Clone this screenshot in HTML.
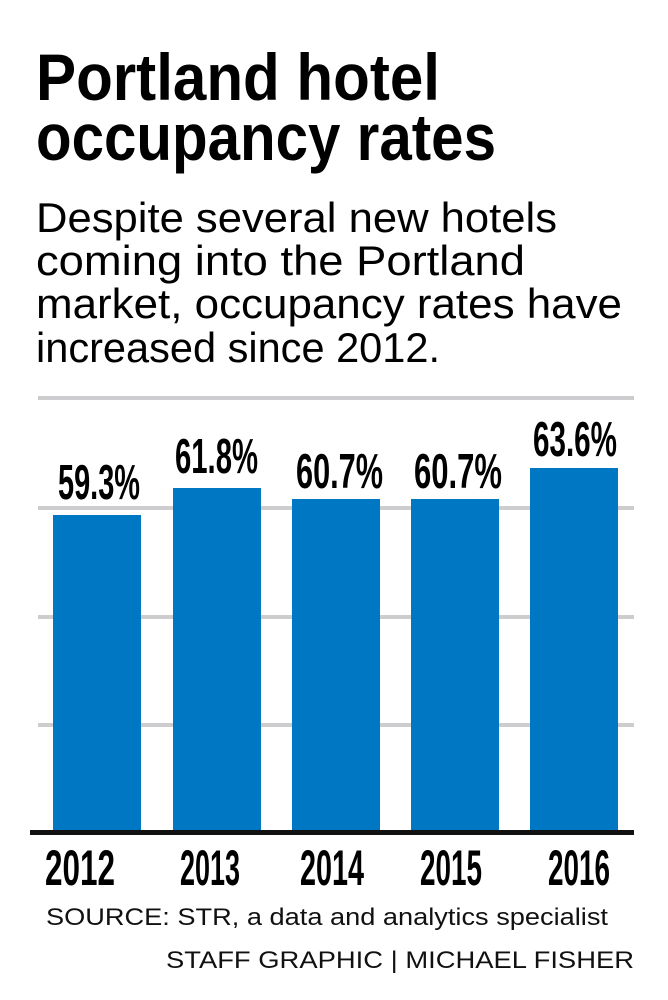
<!DOCTYPE html>
<html><head><meta charset="utf-8"><style>
html,body{margin:0;padding:0;background:#fff;}
svg{display:block;}
</style></head><body>
<svg width="668" height="1000" viewBox="0 0 668 1000" xmlns="http://www.w3.org/2000/svg">
<g font-family="Liberation Sans, sans-serif" fill="#000">
<text x="36" y="100" font-size="66" font-weight="bold" textLength="404" lengthAdjust="spacingAndGlyphs">Portland hotel</text>
<text x="36" y="160" font-size="66" font-weight="bold" textLength="460" lengthAdjust="spacingAndGlyphs">occupancy rates</text>
<text x="36" y="232" font-size="42" textLength="521" lengthAdjust="spacingAndGlyphs">Despite several new hotels</text>
<text x="36" y="275" font-size="42" textLength="489" lengthAdjust="spacingAndGlyphs">coming into the Portland</text>
<text x="36" y="318" font-size="42" textLength="586" lengthAdjust="spacingAndGlyphs">market, occupancy rates have</text>
<text x="36" y="362" font-size="42" textLength="404" lengthAdjust="spacingAndGlyphs">increased since 2012.</text>
</g>
<g fill="#cdcdd0">
<rect x="38" y="396" width="596" height="4"/>
<rect x="38" y="506" width="596" height="4"/>
<rect x="38" y="615" width="596" height="4"/>
<rect x="38" y="723" width="596" height="4"/>
</g>
<g fill="#0077c2">
<rect x="53" y="515" width="88" height="317"/>
<rect x="173" y="488" width="88" height="344"/>
<rect x="292" y="499" width="88" height="333"/>
<rect x="411" y="499" width="88" height="333"/>
<rect x="530" y="468" width="88" height="364"/>
</g>
<rect x="30" y="830" width="604" height="5" fill="#111"/>
<g font-family="Liberation Sans, sans-serif" font-weight="bold" font-size="49" fill="#000">
<text x="58" y="499" textLength="82" lengthAdjust="spacingAndGlyphs">59.3%</text>
<text x="175" y="473" textLength="83" lengthAdjust="spacingAndGlyphs">61.8%</text>
<text x="296" y="488" textLength="87" lengthAdjust="spacingAndGlyphs">60.7%</text>
<text x="414" y="488" textLength="88" lengthAdjust="spacingAndGlyphs">60.7%</text>
<text x="533" y="456" textLength="84" lengthAdjust="spacingAndGlyphs">63.6%</text>
</g>
<g font-family="Liberation Sans, sans-serif" font-weight="bold" font-size="50" fill="#000">
<text x="45" y="885" textLength="70" lengthAdjust="spacingAndGlyphs">2012</text>
<text x="180" y="885" textLength="60" lengthAdjust="spacingAndGlyphs">2013</text>
<text x="300" y="885" textLength="64" lengthAdjust="spacingAndGlyphs">2014</text>
<text x="420" y="885" textLength="62" lengthAdjust="spacingAndGlyphs">2015</text>
<text x="548" y="885" textLength="62" lengthAdjust="spacingAndGlyphs">2016</text>
</g>
<g font-family="Liberation Sans, sans-serif" font-size="24" fill="#111">
<text x="46" y="925" textLength="562" lengthAdjust="spacingAndGlyphs">SOURCE: STR, a data and analytics specialist</text>
<text x="166" y="968" textLength="468" lengthAdjust="spacingAndGlyphs">STAFF GRAPHIC | MICHAEL FISHER</text>
</g>
</svg>
</body></html>
